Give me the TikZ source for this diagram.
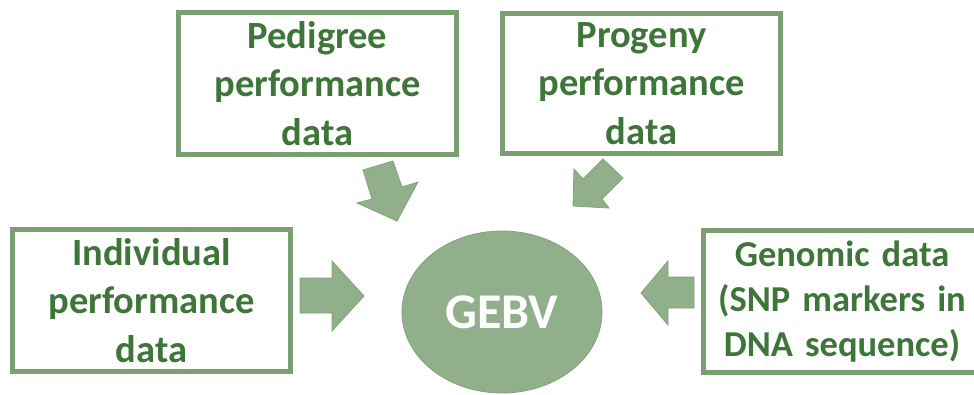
\documentclass[tikz,border=0pt]{standalone}
\usepackage{fontspec}
\setmainfont{Carlito}
\usetikzlibrary{shapes.geometric}
\definecolor{boxline}{HTML}{7AA072}
\definecolor{txtgreen}{HTML}{3E7538}
\definecolor{fillgreen}{HTML}{90AF8A}
\definecolor{arrline}{HTML}{80A57A}
\tikzset{
  infobox/.style={draw=boxline, line width=5pt, fill=white, rectangle,
    minimum width=278pt, minimum height=142pt, inner sep=0pt,
    align=center, text=txtgreen,
    font=\fontsize{38.5}{48.5}\selectfont\bfseries},
  blockarrow/.style={fill=fillgreen, draw=arrline, line width=0.8pt, line join=miter},
  core/.style={ellipse, fill=fillgreen, draw=arrline, line width=0.8pt,
    minimum width=200pt, minimum height=162pt, inner sep=0pt,
    text=white, font=\fontsize{50}{60}\selectfont\bfseries}
}
\begin{document}
\begin{tikzpicture}[x=1pt,y=-1pt]
\clip (0,0) rectangle (974,394);
\fill[white] (0,0) rectangle (974,394);
\node[infobox] (ped) at (317.5,83.5) {Pedigree\\performance\\data};
\node[infobox, minimum height=140pt] (prog) at (641.5,83.5) {Progeny\\performance\\data};
\node[infobox] (ind) at (151.5,300.5) {Individual\\performance\\data};
\node[infobox, font=\fontsize{36.5}{45}\selectfont\bfseries, text width=278pt] (gen) at (842,301.5) {Genomic data\\(SNP markers in\\DNA sequence)};
\node[core] (gebv) at (502,312) {GEBV};
% block arrows
\draw[blockarrow] (363,170) -- (393,161) -- (402,187) -- (418,182) -- (397,221) -- (357,203) -- (372,199) -- cycle;
\draw[blockarrow] (603,159) -- (623,178) -- (602,199) -- (609,208) -- (573,206) -- (574,169) -- (583,179) -- cycle;
\draw[blockarrow] (300,278) -- (332,278) -- (332,261) -- (364,296) -- (332,331) -- (332,313) -- (300,313) -- cycle;
\draw[blockarrow] (694,277) -- (668,277) -- (668,261) -- (641,293) -- (668,325) -- (668,308) -- (694,308) -- cycle;
\end{tikzpicture}
\end{document}
